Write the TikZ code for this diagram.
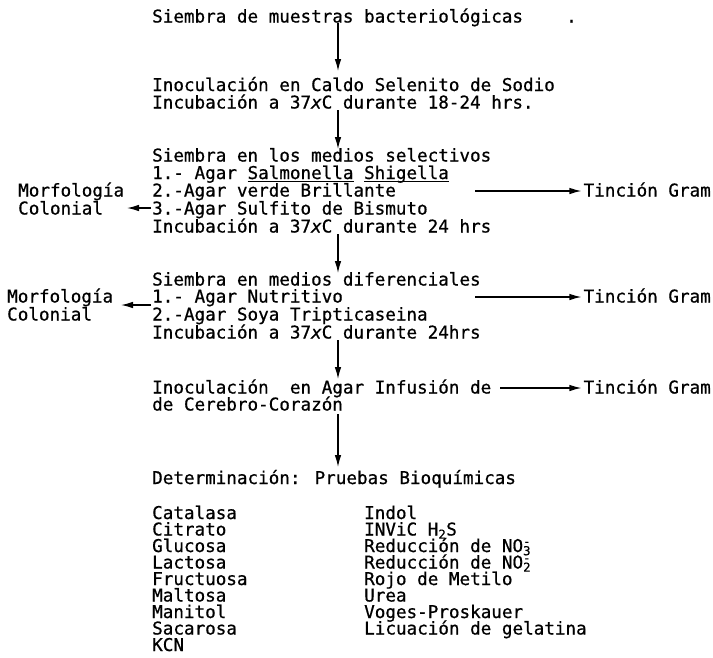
\documentclass[tikz,border=0pt]{standalone}
\usepackage{fontspec}
\newfontfamily\mymono[FakeBold=0.7]{DejaVu Sans Mono}
\usetikzlibrary{arrows.meta}
\newcommand\myul[1]{\setbox0\hbox{#1}\rlap{\rule[-2.6pt]{\wd0}{1.1pt}}\box0\relax}
\newcommand\chem[2]{\smash{\rlap{\textsuperscript{-}}\textsubscript{#2}}}
\begin{document}
\begin{tikzpicture}[x=1pt,y=-1pt,
  txt/.style={anchor=base west, inner sep=0pt, font=\mymono\fontsize{17.6}{17.6}\selectfont},
  txtr/.style={txt, anchor=base east},
  arr/.style={line width=1.2pt, -{Latex[length=12pt,width=6.5pt]}}]
\useasboundingbox[fill=white] (0,0) rectangle (713,657);
% main column
\node[txt] (l1) at (152,22.5) {Siembra de muestras bacteriológicas};
\node[txt] (dot) at (566,22.5) {.};
\node[txt] (l2) at (152,91) {Inoculación en Caldo Selenito de Sodio};
\node[txt] (l3) at (152,108.5) {Incubación a 37\textit{x}C durante 18-24 hrs.};
\node[txt] (l4) at (152,161.5) {Siembra en los medios selectivos};
\node[txt] (l5) at (152,179) {1.- Agar \myul{Salmonella} \myul{Shigella}};
\node[txt] (l6) at (152,196.5) {2.-Agar verde Brillante};
\node[txt] (l7) at (152,214.5) {3.-Agar Sulfito de Bismuto};
\node[txt] (l8) at (152,232.5) {Incubación a 37\textit{x}C durante 24 hrs};
\node[txt] (l9) at (152,285.5) {Siembra en medios diferenciales};
\node[txt] (l10) at (152,302.5) {1.- Agar Nutritivo};
\node[txt] (l11) at (152,320.5) {2.-Agar Soya Tripticaseina};
\node[txt] (l12) at (152,338.5) {Incubación a 37\textit{x}C durante 24hrs};
\node[txt] (l13) at (152,393.5) {Inoculación\ \ en Agar Infusión de};
\node[txt] (l14) at (152,410.5) {de Cerebro-Corazón};
\node[txt] (l15) at (152,484) {Determinación: Pruebas Bioquímicas};
% list
\node[txt] (b1) at (152,519) {Catalasa};
\node[txt] (b2) at (152,535.5) {Citrato};
\node[txt] (b3) at (152,552) {Glucosa};
\node[txt] (b4) at (152,568.5) {Lactosa};
\node[txt] (b5) at (152,585) {Fructuosa};
\node[txt] (b6) at (152,601.5) {Maltosa};
\node[txt] (b7) at (152,618) {Manitol};
\node[txt] (b8) at (152,634.5) {Sacarosa};
\node[txt] (b9) at (152,651) {KCN};
\node[txt] (c1) at (364,519) {Indol};
\node[txt] (c2) at (364,535.5) {INViC H\smash{\textsubscript{2}}S};
\node[txt] (c3) at (364,552) {Reducción de NO\chem{}{3}};
\node[txt] (c4) at (364,568.5) {Reducción de NO\chem{}{2}};
\node[txt] (c5) at (364,585) {Rojo de Metilo};
\node[txt] (c6) at (364,601.5) {Urea};
\node[txt] (c7) at (364,618) {Voges-Proskauer};
\node[txt] (c8) at (364,634.5) {Licuación de gelatina};
% side labels
\node[txt] (m1) at (18,196.5) {Morfología};
\node[txt] (k1) at (18,214.5) {Colonial};
\node[txt] (m2) at (7,302.5) {Morfología};
\node[txt] (k2) at (7,320.5) {Colonial};
\node[txtr] (t1) at (711,196.5) {Tinción Gram};
\node[txtr] (t2) at (711,302.5) {Tinción Gram};
\node[txtr] (t3) at (711,393.5) {Tinción Gram};
% vertical arrows
\coordinate (v1s) at (338,23);  \coordinate (v1e) at (338,71);
\coordinate (v2s) at (338,110); \coordinate (v2e) at (338,149);
\coordinate (v3s) at (338,234); \coordinate (v3e) at (338,273);
\coordinate (v4s) at (338,340); \coordinate (v4e) at (338,379);
\coordinate (v5s) at (338,414); \coordinate (v5e) at (338,467);
\draw[arr] (v1s) -- (v1e);
\draw[arr] (v2s) -- (v2e);
\draw[arr] (v3s) -- (v3e);
\draw[arr] (v4s) -- (v4e);
\draw[arr] (v5s) -- (v5e);
% right arrows
\coordinate (r1s) at (475,191);
\coordinate (r2s) at (475,297);
\coordinate (r3s) at (500,388);
\draw[arr] (r1s) -- ([xshift=-2pt]t1.west |- r1s);
\draw[arr] (r2s) -- ([xshift=-2pt]t2.west |- r2s);
\draw[arr] (r3s) -- ([xshift=-2pt]t3.west |- r3s);
% left arrows
\coordinate (q1s) at (151,208); \coordinate (q1e) at (127,208);
\coordinate (q2s) at (151,305); \coordinate (q2e) at (121,305);
\draw[arr] (q1s) -- (q1e);
\draw[arr] (q2s) -- (q2e);
\end{tikzpicture}
\end{document}
